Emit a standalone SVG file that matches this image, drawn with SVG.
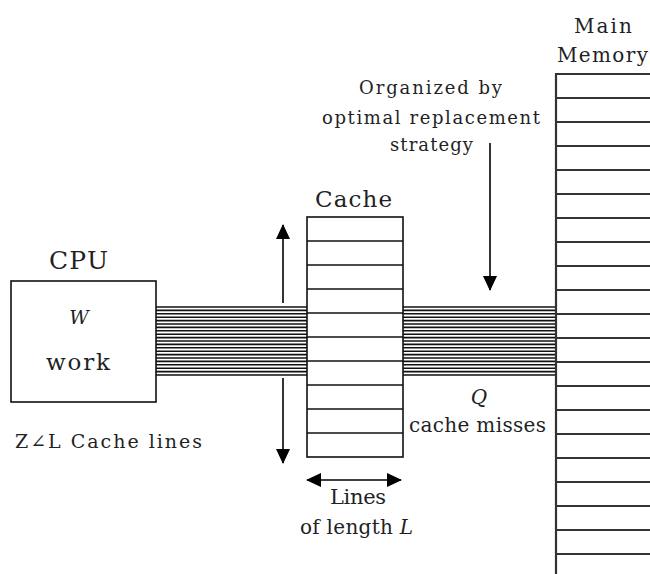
<svg xmlns="http://www.w3.org/2000/svg" width="650" height="574" viewBox="0 0 650 574">
<defs>
<style>
.t{font-family:"DejaVu Serif","Liberation Serif",serif;fill:#231f26}
.i{font-style:italic}
.box{fill:#fff;stroke:#111;stroke-width:1.6}
.row{stroke:#111;stroke-width:1.6}
.mem{stroke:#333;stroke-width:2.2;fill:none}
.bus{stroke:#111;stroke-width:1.6}
.arr{stroke:#000;stroke-width:1.6;fill:none}
</style>
<marker id="ah" viewBox="0 0 15 14" markerWidth="15" markerHeight="14" refX="14" refY="7" orient="auto-start-reverse" markerUnits="userSpaceOnUse">
<path d="M0,0 L15,7 L0,14 z" fill="#000"/>
</marker>
</defs>
<rect width="650" height="574" fill="#fff"/>

<g id="connectors">
<g id="bus-left">
<line class="bus" x1="156" y1="307" x2="307" y2="307"/>
<line class="bus" x1="156" y1="310.4" x2="307" y2="310.4"/>
<line class="bus" x1="156" y1="313.8" x2="307" y2="313.8"/>
<line class="bus" x1="156" y1="317.2" x2="307" y2="317.2"/>
<line class="bus" x1="156" y1="320.6" x2="307" y2="320.6"/>
<line class="bus" x1="156" y1="324" x2="307" y2="324"/>
<line class="bus" x1="156" y1="327.4" x2="307" y2="327.4"/>
<line class="bus" x1="156" y1="330.8" x2="307" y2="330.8"/>
<line class="bus" x1="156" y1="334.2" x2="307" y2="334.2"/>
<line class="bus" x1="156" y1="337.6" x2="307" y2="337.6"/>
<line class="bus" x1="156" y1="341" x2="307" y2="341"/>
<line class="bus" x1="156" y1="344.4" x2="307" y2="344.4"/>
<line class="bus" x1="156" y1="347.8" x2="307" y2="347.8"/>
<line class="bus" x1="156" y1="351.2" x2="307" y2="351.2"/>
<line class="bus" x1="156" y1="354.6" x2="307" y2="354.6"/>
<line class="bus" x1="156" y1="358" x2="307" y2="358"/>
<line class="bus" x1="156" y1="361.4" x2="307" y2="361.4"/>
<line class="bus" x1="156" y1="364.8" x2="307" y2="364.8"/>
<line class="bus" x1="156" y1="368.2" x2="307" y2="368.2"/>
<line class="bus" x1="156" y1="371.6" x2="307" y2="371.6"/>
<line class="bus" x1="156" y1="375" x2="307" y2="375"/>
</g>
<g id="bus-right">
<line class="bus" x1="403" y1="307" x2="556" y2="307"/>
<line class="bus" x1="403" y1="310.4" x2="556" y2="310.4"/>
<line class="bus" x1="403" y1="313.8" x2="556" y2="313.8"/>
<line class="bus" x1="403" y1="317.2" x2="556" y2="317.2"/>
<line class="bus" x1="403" y1="320.6" x2="556" y2="320.6"/>
<line class="bus" x1="403" y1="324" x2="556" y2="324"/>
<line class="bus" x1="403" y1="327.4" x2="556" y2="327.4"/>
<line class="bus" x1="403" y1="330.8" x2="556" y2="330.8"/>
<line class="bus" x1="403" y1="334.2" x2="556" y2="334.2"/>
<line class="bus" x1="403" y1="337.6" x2="556" y2="337.6"/>
<line class="bus" x1="403" y1="341" x2="556" y2="341"/>
<line class="bus" x1="403" y1="344.4" x2="556" y2="344.4"/>
<line class="bus" x1="403" y1="347.8" x2="556" y2="347.8"/>
<line class="bus" x1="403" y1="351.2" x2="556" y2="351.2"/>
<line class="bus" x1="403" y1="354.6" x2="556" y2="354.6"/>
<line class="bus" x1="403" y1="358" x2="556" y2="358"/>
<line class="bus" x1="403" y1="361.4" x2="556" y2="361.4"/>
<line class="bus" x1="403" y1="364.8" x2="556" y2="364.8"/>
<line class="bus" x1="403" y1="368.2" x2="556" y2="368.2"/>
<line class="bus" x1="403" y1="371.6" x2="556" y2="371.6"/>
<line class="bus" x1="403" y1="375" x2="556" y2="375"/>
</g>
<line class="arr" x1="283" y1="303" x2="283" y2="225" marker-end="url(#ah)"/>
<line class="arr" x1="283" y1="378" x2="283" y2="463" marker-end="url(#ah)"/>
<line class="arr" x1="490" y1="143" x2="490" y2="290" marker-end="url(#ah)"/>
<line class="arr" x1="307" y1="480" x2="401" y2="480" marker-start="url(#ah)" marker-end="url(#ah)"/>
</g>

<g id="cpu">
<rect class="box" x="11" y="281" width="145" height="121"/>
<text class="t" x="49" y="269" font-size="25" textLength="59">CPU</text>
<text class="t i" x="79" y="324" font-size="19" text-anchor="middle">W</text>
<text class="t" x="46" y="370" font-size="23" textLength="64">work</text>
<text class="t" x="15" y="448" font-size="19" textLength="187">Z∠L Cache lines</text>
</g>

<g id="cache">
<rect class="box" x="307" y="217" width="96" height="240"/>
<line class="row" x1="307" y1="241" x2="403" y2="241"/>
<line class="row" x1="307" y1="265" x2="403" y2="265"/>
<line class="row" x1="307" y1="289" x2="403" y2="289"/>
<line class="row" x1="307" y1="313" x2="403" y2="313"/>
<line class="row" x1="307" y1="337" x2="403" y2="337"/>
<line class="row" x1="307" y1="361" x2="403" y2="361"/>
<line class="row" x1="307" y1="385" x2="403" y2="385"/>
<line class="row" x1="307" y1="409" x2="403" y2="409"/>
<line class="row" x1="307" y1="433" x2="403" y2="433"/>
<text class="t" x="315" y="207" font-size="23" textLength="77">Cache</text>
<text class="t" x="330" y="504" font-size="21" textLength="56">Lines</text>
<text class="t" x="300" y="534" font-size="20" textLength="113">of length <tspan class="i">L</tspan></text>
</g>

<g id="strategy-label">
<text class="t" x="359" y="94" font-size="18" textLength="143">Organized by</text>
<text class="t" x="322" y="124" font-size="18" textLength="218">optimal replacement</text>
<text class="t" x="390" y="151" font-size="18" textLength="83">strategy</text>
</g>

<g id="misses-label">
<text class="t i" x="479" y="404" font-size="20" text-anchor="middle">Q</text>
<text class="t" x="409" y="432" font-size="20" textLength="137">cache misses</text>
</g>

<g id="main-memory">
<path class="mem" d="M652,74 H556 V576"/>
<line class="mem" x1="556" y1="98" x2="652" y2="98"/>
<line class="mem" x1="556" y1="122" x2="652" y2="122"/>
<line class="mem" x1="556" y1="146" x2="652" y2="146"/>
<line class="mem" x1="556" y1="170" x2="652" y2="170"/>
<line class="mem" x1="556" y1="194" x2="652" y2="194"/>
<line class="mem" x1="556" y1="218" x2="652" y2="218"/>
<line class="mem" x1="556" y1="242" x2="652" y2="242"/>
<line class="mem" x1="556" y1="266" x2="652" y2="266"/>
<line class="mem" x1="556" y1="290" x2="652" y2="290"/>
<line class="mem" x1="556" y1="314" x2="652" y2="314"/>
<line class="mem" x1="556" y1="338" x2="652" y2="338"/>
<line class="mem" x1="556" y1="362" x2="652" y2="362"/>
<line class="mem" x1="556" y1="386" x2="652" y2="386"/>
<line class="mem" x1="556" y1="410" x2="652" y2="410"/>
<line class="mem" x1="556" y1="434" x2="652" y2="434"/>
<line class="mem" x1="556" y1="458" x2="652" y2="458"/>
<line class="mem" x1="556" y1="482" x2="652" y2="482"/>
<line class="mem" x1="556" y1="506" x2="652" y2="506"/>
<line class="mem" x1="556" y1="530" x2="652" y2="530"/>
<line class="mem" x1="556" y1="554" x2="652" y2="554"/>
<text class="t" x="574" y="33" font-size="20" textLength="58">Main</text>
<text class="t" x="557" y="62" font-size="20" textLength="91">Memory</text>
</g>
</svg>
